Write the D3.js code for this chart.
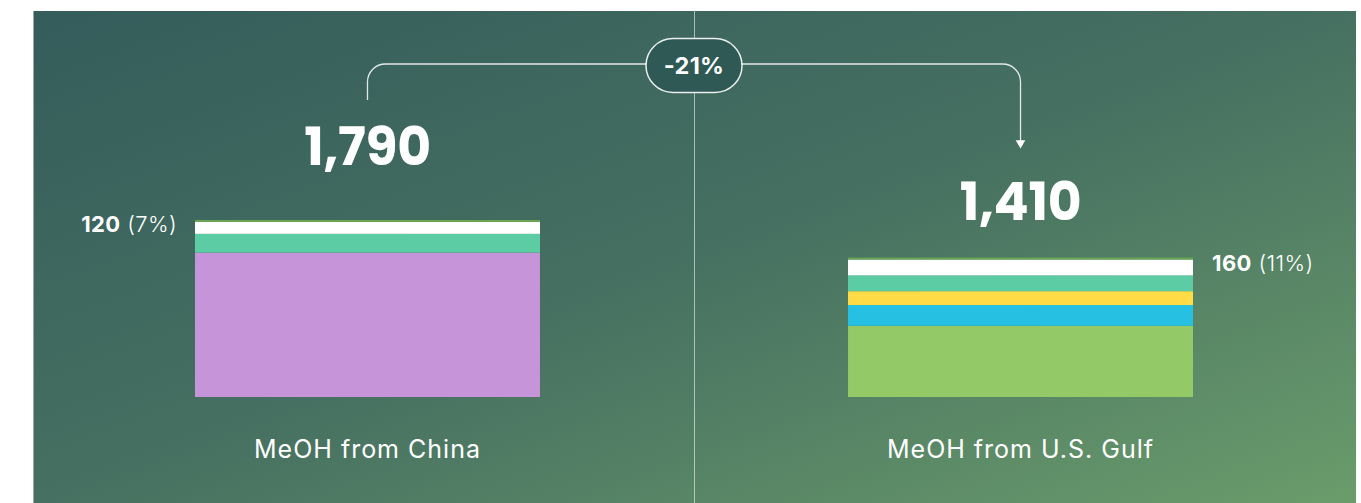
<!DOCTYPE html>
<html><head><meta charset="utf-8">
<script src="https://cdn.jsdelivr.net/npm/d3@7"></script>
<style>html,body{margin:0;padding:0;background:#fff;}svg{display:block;font-family:Inter,"Open Sans",sans-serif;}</style>
</head><body>
<svg id="c" width="1361" height="503"></svg>
<script>
const categories = ["MeOH from China", "MeOH from U.S. Gulf"];
const segmentNames = ["base", "blue", "yellow", "teal", "white", "cap"];
// values per category, bottom -> top
const chinaValues = [1460, 0, 0, 190, 120, 20];
const gulfValues  = [720, 210, 140, 160, 160, 20];
const highlightValues = [120, 160];   // labelled (white) segment
const segmentColors = {
  china: ["#c594d9", "#26c0e2", "#ffdc46", "#5ccca5", "#ffffff", "#6aa653"],
  gulf:  ["#93c967", "#26c0e2", "#ffdc46", "#5ccca5", "#ffffff", "#6aa653"]
};

const seriesValues = [chinaValues, gulfValues];
const totals = seriesValues.map(v => d3.sum(v));
const colorSets = [segmentColors.china, segmentColors.gulf];

const svg = d3.select("#c");
const defs = svg.append("defs");
const g = defs.append("linearGradient").attr("id", "bg").attr("x1", 0).attr("y1", 0).attr("x2", 1).attr("y2", 1);
g.append("stop").attr("offset", 0).attr("stop-color", "#345c5b");
g.append("stop").attr("offset", 0.5).attr("stop-color", "#467061");
g.append("stop").attr("offset", 1).attr("stop-color", "#6a9c6b");

svg.append("rect").attr("x", 33).attr("y", 11).attr("width", 1323).attr("height", 492).attr("fill", "url(#bg)");
svg.append("line").attr("x1", 33.5).attr("x2", 33.5).attr("y1", 11).attr("y2", 503).attr("stroke", "#9aa7a4").attr("stroke-width", 1);

const x = d3.scaleBand().domain(categories).range([195, 1193]).paddingInner(0.4717).paddingOuter(0);
const y = d3.scaleLinear().domain([0, totals[0]]).range([397, 220]);

// divider
svg.append("line").attr("x1", 694.5).attr("x2", 694.5).attr("y1", 11).attr("y2", 503)
  .attr("stroke", "rgba(255,255,255,0.55)").attr("stroke-width", 1);

// bars
categories.forEach((cat, i) => {
  const stack = d3.stack().keys(segmentNames.map((_, k) => k))([seriesValues[i]]);
  svg.append("g").selectAll("rect").data(stack).join("rect")
    .attr("x", x(cat)).attr("width", x.bandwidth())
    .attr("y", d => y(d[0][1]))
    .attr("height", d => y(d[0][0]) - y(d[0][1]))
    .attr("fill", (d, k) => colorSets[i][k]);
});

const fmt = d3.format(",");
const pct = d3.format(".0%");
const totalOffsets = [55, 38];
categories.forEach((cat, i) => {
  const cx = x(cat) + x.bandwidth() / 2;
  svg.append("text").attr("x", cx).attr("y", y(totals[i]) - totalOffsets[i])
    .attr("text-anchor", "middle").attr("fill", "#fff").attr("font-size", 52).attr("font-weight", 700)
    .attr("font-family", "Poppins, Inter, sans-serif").attr("letter-spacing", -0.3)
    .text(fmt(totals[i]));
  svg.append("text").attr("x", cx).attr("y", 458)
    .attr("text-anchor", "middle").attr("fill", "#fff").attr("font-size", 25).attr("font-weight", 400)
    .attr("letter-spacing", 1)
    .text(cat);
  // highlight label next to white segment
  const vals = seriesValues[i];
  const lo = d3.sum(vals.slice(0, 4));
  const mid = (y(lo) + y(lo + vals[4])) / 2;
  const left = i === 0;
  const t = svg.append("text")
    .attr("x", left ? x(cat) - 18 : x(cat) + x.bandwidth() + 19)
    .attr("y", mid + 4)
    .attr("text-anchor", left ? "end" : "start")
    .attr("fill", "#fff").attr("font-size", 22).attr("letter-spacing", 0.4);
  t.append("tspan").attr("font-weight", 700).text(highlightValues[i]);
  t.append("tspan").attr("font-weight", 300).text(" (" + pct(highlightValues[i] / totals[i]) + ")");
});

// connector
const c0 = x(categories[0]) + x.bandwidth() / 2;
const c1 = x(categories[1]) + x.bandwidth() / 2;
const hy = 64, r = 18;
const pillX = 694, pillW = 96, pillH = 54;
const path = d3.path();
path.moveTo(c0, 100);
path.lineTo(c0, hy + r);
path.arcTo(c0, hy, c0 + r, hy, r);
path.lineTo(c1 - r, hy);
path.arcTo(c1, hy, c1, hy + r, r);
path.lineTo(c1, 141);
svg.append("path").attr("d", path.toString()).attr("fill", "none")
  .attr("stroke", "rgba(255,255,255,0.85)").attr("stroke-width", 1.3);
svg.append("path").attr("d", d3.symbol(d3.symbolTriangle, 40)())
  .attr("transform", `translate(${c1},${143}) rotate(180)`).attr("fill", "#fff");

svg.append("rect").attr("x", pillX - pillW / 2).attr("y", 38.5).attr("width", pillW).attr("height", pillH)
  .attr("rx", pillH / 2).attr("fill", "#2f5955").attr("stroke", "rgba(255,255,255,0.9)").attr("stroke-width", 1.5);
svg.append("text").attr("x", pillX).attr("y", 74).attr("text-anchor", "middle")
  .attr("fill", "#fff").attr("font-size", 23.5).attr("font-weight", 700).attr("letter-spacing", 0.3)
  .text(d3.format(".0%")((totals[1] - totals[0]) / totals[0]).replace("−", "-"));
</script>
</body></html>
